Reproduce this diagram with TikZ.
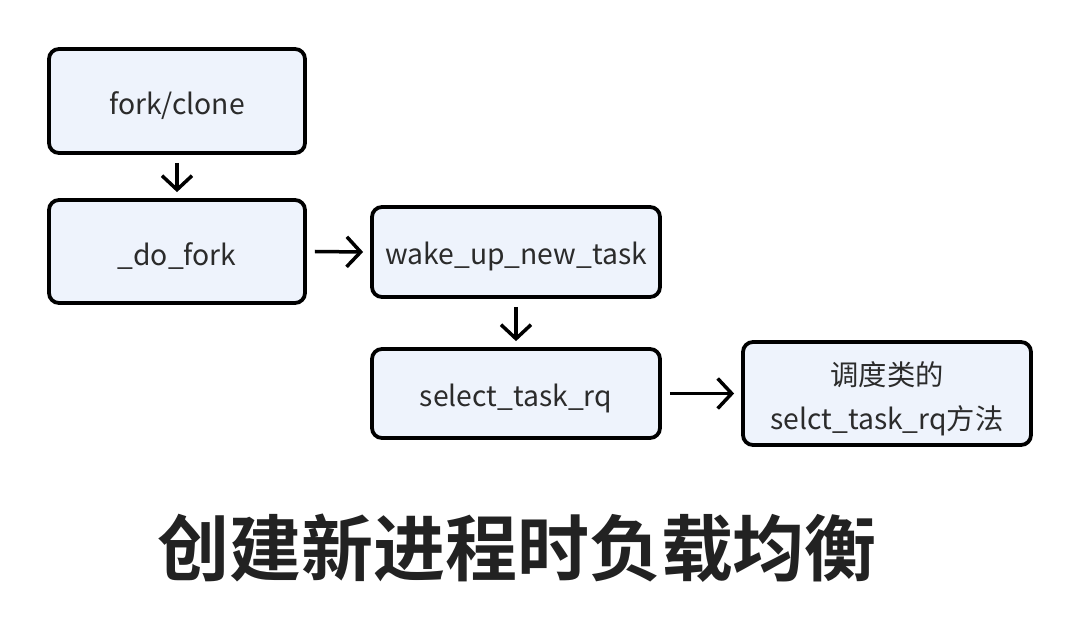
\documentclass[tikz,border=0pt]{standalone}
\usepackage{fontspec}
\setmainfont{Noto Sans CJK SC}
\newfontfamily\titlefont{Noto Sans CJK SC Bold}
\usetikzlibrary{arrows.meta}
\definecolor{boxfill}{HTML}{EEF3FC}
\definecolor{txt}{HTML}{2B2B2B}
\tikzset{
  flowbox/.style={draw=black, line width=3.8pt, fill=boxfill, rounded corners=10pt, inner sep=0pt},
  boxtext/.style={inner sep=0pt, font=\fontsize{28.3}{44}\selectfont, text=txt, align=center},
  flowarrow/.style={line width=3.5pt, -{Straight Barb[length=14pt,width=30pt,line width=3.5pt]}}
}
\begin{document}
\begin{tikzpicture}[x=1pt,y=-1pt]
\useasboundingbox[fill=white] (0,0) rectangle (1082,644);
\node[flowbox, minimum width=256pt, minimum height=104pt] (fork) at (177,101) {};
\node[flowbox, minimum width=256pt, minimum height=103pt] (dofork) at (177,251.5) {};
\node[flowbox, minimum width=288pt, minimum height=90pt] (wake) at (516,252) {};
\node[flowbox, minimum width=288pt, minimum height=89pt] (sel) at (516,393.5) {};
\node[flowbox, minimum width=288pt, minimum height=103pt] (cls) at (887,393.5) {};
\node[boxtext] (forkt) at ([yshift=-4.5pt]fork.center) {fork/clone};
\node[boxtext] (doforkt) at ([yshift=-4.5pt]dofork.center) {\_do\_fork};
\node[boxtext] (waket) at ([yshift=-4.5pt]wake.center) {wake\_up\_new\_task};
\node[boxtext] (selt) at ([yshift=-4.5pt]sel.center) {select\_task\_rq};
\node[boxtext] (clst) at ([yshift=-5pt]cls.center) {调度类的\\selct\_task\_rq方法};
\draw[flowarrow] ([yshift=-8pt]fork.south) -- ([yshift=6pt]dofork.north);
\draw[flowarrow] ([xshift=8pt]dofork.east) -- ([xshift=-7pt]wake.west);
\draw[flowarrow] ([yshift=-8pt]wake.south) -- ([yshift=6pt]sel.north);
\draw[flowarrow] ([xshift=8pt]sel.east) -- ([xshift=-7pt]cls.west);
\node[font=\titlefont\fontsize{72}{80}\selectfont, text=txt!80!black, inner sep=0pt] (title) at (517,548) {创建新进程时负载均衡};
\end{tikzpicture}
\end{document}
